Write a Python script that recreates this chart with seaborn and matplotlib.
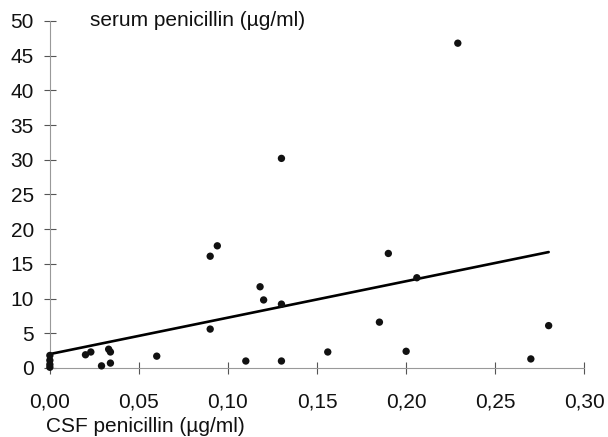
import matplotlib
matplotlib.use("Agg")
import matplotlib.pyplot as plt
import pandas as pd
import seaborn as sns
from matplotlib.ticker import FuncFormatter

# values
csf_penicillin = [
    0.0, 0.0, 0.0, 0.0, 0.020, 0.023, 0.029, 0.033, 0.034, 0.034,
    0.060, 0.090, 0.090, 0.094, 0.110, 0.118, 0.120, 0.130, 0.130, 0.130,
    0.156, 0.185, 0.190, 0.200, 0.206, 0.229, 0.270, 0.280,
]
serum_penicillin = [
    1.8, 1.1, 0.5, 0.1, 1.9, 2.3, 0.3, 2.7, 2.3, 0.7,
    1.7, 16.1, 5.6, 17.6, 1.0, 11.7, 9.8, 30.2, 9.2, 1.0,
    2.3, 6.6, 16.5, 2.4, 13.0, 46.8, 1.3, 6.1,
]
fit_x = [0.0, 0.28]
fit_y = [2.0, 16.7]

x_ticks = [0.0, 0.05, 0.10, 0.15, 0.20, 0.25, 0.30]
y_ticks = [0, 5, 10, 15, 20, 25, 30, 35, 40, 45, 50]

sns.set_theme(style="white")
plt.rcParams["font.family"] = ["Liberation Sans", "DejaVu Sans"]

points = pd.DataFrame({"csf": csf_penicillin, "serum": serum_penicillin})
fit = pd.DataFrame({"csf": fit_x, "serum": fit_y})

fig, ax = plt.subplots(figsize=(6.08, 4.37), dpi=100)
fig.subplots_adjust(left=0.082, right=0.961, bottom=0.158, top=0.952)

sns.lineplot(data=fit, x="csf", y="serum", ax=ax, color="black", linewidth=1.9)
sns.scatterplot(data=points, x="csf", y="serum", ax=ax, color="#111111",
                s=28, edgecolor="none", clip_on=False, zorder=3)

ax.set_xlim(0, 0.30)
ax.set_ylim(0, 50)
ax.set_xticks(x_ticks)
ax.set_yticks(y_ticks)
ax.xaxis.set_major_formatter(FuncFormatter(lambda v, _: f"{v:.2f}".replace(".", ",")))
ax.set_xlabel("")
ax.set_ylabel("")

for side in ["top", "right"]:
    ax.spines[side].set_visible(False)
for side in ["left", "bottom"]:
    ax.spines[side].set_color("#999999")
    ax.spines[side].set_linewidth(0.8)

ax.tick_params(axis="both", direction="inout", length=9, width=0.8,
               color="#555555", labelsize=15, labelcolor="#111111",
               bottom=True, left=True)
ax.tick_params(axis="y", pad=7)
ax.tick_params(axis="x", pad=13)

ax.text(0.075, 1.0, "serum penicillin (µg/ml)", transform=ax.transAxes,
        fontsize=15, color="#111111", va="center", ha="left")
fig.text(0.076, 0.012, "CSF penicillin (µg/ml)", fontsize=15,
         color="#111111", ha="left", va="baseline")

fig.savefig("out.png", dpi=100)
